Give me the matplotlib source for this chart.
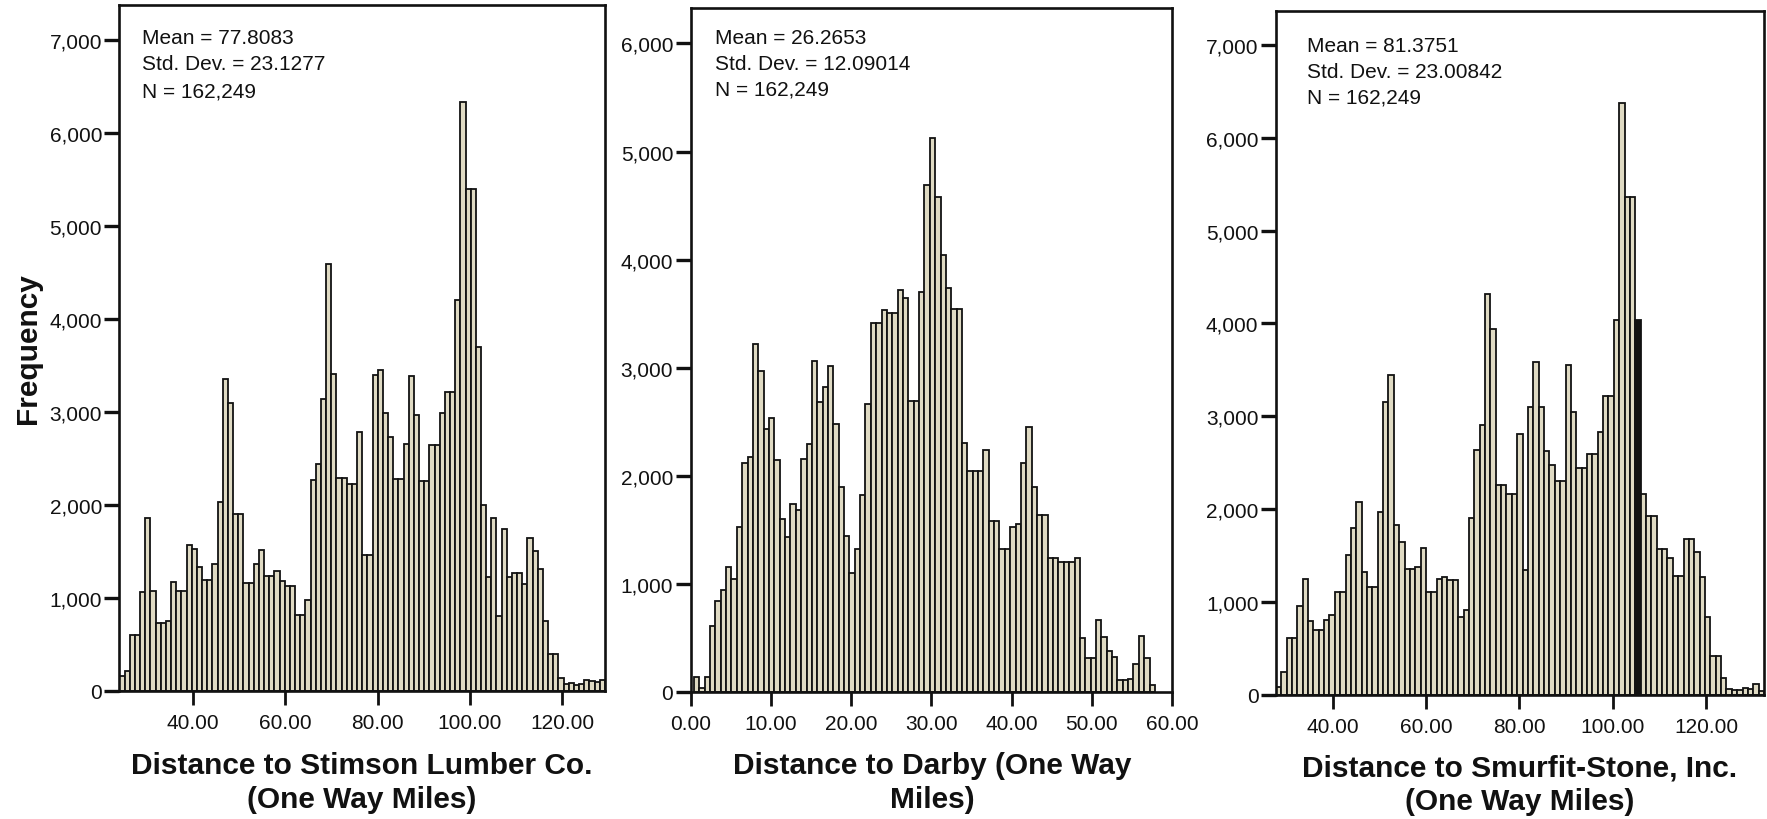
import numpy as np
import matplotlib
matplotlib.use("Agg")
import matplotlib.pyplot as plt
from matplotlib.ticker import FuncFormatter, FixedLocator

plt.rcParams['font.family'] = ['Liberation Sans', 'DejaVu Sans']

# ---------------- data ----------------
stimson_counts = [160, 220,
    600, 600, 1060, 1860, 1080, 730, 730, 750, 1170, 1080,
    1080, 1570, 1530, 1330, 1190, 1190, 1370, 2030, 3350, 3100,
    1900, 1900, 1160, 1160, 1370, 1520, 1240, 1240, 1290, 1180,
    1130, 1130, 820, 820, 980, 2270, 2440, 3140, 4590, 3410,
    2290, 2290, 2230, 2230, 2790, 1460, 1460, 3400, 3450, 2990,
    2730, 2280, 2280, 2660, 3390, 2970, 2260, 2260, 2650, 2650,
    2990, 3210, 3210, 4200, 6330, 5400, 5400, 3700,
    2000, 1230, 1860, 810, 1740, 1230, 1270, 1270, 1150, 1650,
    1500, 1310, 750, 400, 400, 135, 70, 90, 60, 70,
    120, 110, 100, 120]
stimson_bin_start = 24.16
stimson_bin_width = 1.1174
stimson_stats = ["Mean = 77.8083", "Std. Dev. = 23.1277", "N = 162,249"]
stimson_title = ["Distance to Stimson Lumber Co.", "(One Way Miles)"]

darby_counts = [135, 40, 135, 610, 840, 940, 1155, 1045, 1523, 2120,
    2170, 3215, 2972, 2432, 2532, 2150, 1600, 1437, 1737, 1683,
    2152, 2297, 3058, 2685, 2819, 3017, 2481, 1900, 1445, 1100,
    1320, 1825, 2667, 3414, 3414, 3535, 3502, 3502, 3717, 3643,
    2694, 2694, 3704, 4687, 5125, 4579, 4047, 3737, 3542, 3542,
    2303, 2044, 2044, 2044, 2236, 1582, 1582, 1320, 1320, 1522,
    1556, 2121, 2448, 1892, 1640, 1640, 1236, 1236, 1202, 1202,
    1202, 1242, 495, 310, 310, 663, 512, 377, 327, 108,
    108, 118, 259, 519, 310, 67]
darby_bin_start = 0.42
darby_bin_width = 0.668
darby_stats = ["Mean = 26.2653", "Std. Dev. = 12.09014", "N = 162,249"]
darby_title = ["Distance to Darby (One Way", "Miles)"]

smurfit_counts = [83, 242,
    613, 613, 950, 1250, 792, 700, 700, 800, 854, 1104,
    1104, 1508, 1800, 2075, 1325, 1158, 1158, 1967, 3154, 3446,
    1833, 1646, 1354, 1354, 1375, 1575, 1104, 1104, 1250, 1262,
    1237, 1237, 833, 908, 1904, 2633, 2908, 4321, 3938, 2258,
    2258, 2158, 2158, 2804, 1346, 3096, 3583, 3104, 2625, 2479,
    2300, 2300, 3550, 3050, 2446, 2446, 2596, 2596, 2833, 3221,
    3221, 4033,
    6375,
    5363, 5363, 4033, 2167, 1929, 1929, 1571, 1571, 1471, 1283,
    1283, 1675, 1675, 1533, 1271, 833,
    417, 417, 179, 63, 54, 50, 75, 60, 117, 42]
smurfit_bin_start = 27.8
smurfit_bin_width = 1.1495
smurfit_stats = ["Mean = 81.3751", "Std. Dev. = 23.00842", "N = 162,249"]
smurfit_title = ["Distance to Smurfit-Stone, Inc.", "(One Way Miles)"]

xticks_far = [40, 60, 80, 100, 120]
xticks_darby = [0, 10, 20, 30, 40, 50, 60]
yticks_7k = [0, 1000, 2000, 3000, 4000, 5000, 6000, 7000]
yticks_6k = [0, 1000, 2000, 3000, 4000, 5000, 6000]

# ---------------- layout / style ----------------
W, H = 1767, 820
fig = plt.figure(figsize=(W / 100, H / 100), dpi=100)
fig.patch.set_facecolor('white')

FACE = '#dfdac3'
EDGE = '#121212'
# in the scan one bar of the Smurfit-Stone panel (the 4,033 one after the
# two 5,363 bars) prints solid black
SMURFIT_DARK_BAR = 67


def add_ax(l, r, t, b):
    return fig.add_axes([l / W, 1 - b / H, (r - l) / W, (b - t) / H])


def draw_panel(ax, counts, start, width, xlim, ylim, xticks, yticks,
               dark_bar=None):
    n = len(counts)
    lefts = start + width * np.arange(n)
    faces = [FACE] * n
    if dark_bar is not None:
        faces[dark_bar] = EDGE
    ax.bar(lefts, counts, width=width, align='edge', color=faces,
           edgecolor=EDGE, linewidth=1.3)
    ax.set_xlim(*xlim)
    ax.set_ylim(*ylim)
    ax.xaxis.set_major_locator(FixedLocator(xticks))
    ax.yaxis.set_major_locator(FixedLocator(yticks))
    ax.xaxis.set_major_formatter(FuncFormatter(lambda v, p: f"{v:.2f}"))
    ax.yaxis.set_major_formatter(FuncFormatter(lambda v, p: f"{v:,.0f}"))
    ax.tick_params(axis='y', direction='out', length=11, width=2.4, pad=1.5,
                   labelsize=15, colors='#111111')
    ax.tick_params(axis='x', direction='out', length=10, width=2.0, pad=6,
                   labelsize=15, colors='#111111')
    for s in ax.spines.values():
        s.set_linewidth(1.9)
        s.set_color('#111111')


ax1 = add_ax(119.4, 605, 6.3, 692)
draw_panel(ax1, stimson_counts, stimson_bin_start, stimson_bin_width,
           (24.16, 129.2), (0, 7373), xticks_far, yticks_7k)

ax2 = add_ax(690.6, 1172, 9.4, 693)
draw_panel(ax2, darby_counts, darby_bin_start, darby_bin_width,
           (0, 60), (0, 6324), xticks_darby, yticks_6k)

ax3 = add_ax(1275.8, 1764, 11.5, 695.6)
draw_panel(ax3, smurfit_counts, smurfit_bin_start, smurfit_bin_width,
           (27.8, 132.4), (0, 7372), xticks_far, yticks_7k,
           dark_bar=SMURFIT_DARK_BAR)


def stats(x, ys, lines):
    for y, s in zip(ys, lines):
        fig.text(x / W, 1 - y / H, s, ha='left', va='center', fontsize=15,
                 color='#111111')


stats(141.5, [39, 65, 91.5], stimson_stats)
stats(715, [38, 64, 90], darby_stats)
stats(1307, [46, 72, 98], smurfit_stats)


def title(cx, ys, lines):
    for y, s in zip(ys, lines):
        fig.text(cx / W, 1 - y / H, s, ha='center', va='baseline',
                 fontsize=21.5, fontweight='bold', color='#111111')


title(362, [774, 808], stimson_title)
title(932, [774, 808], darby_title)
title(1520, [777, 810], smurfit_title)

fig.text(27.7 / W, 1 - 349 / H, 'Frequency', rotation=90, ha='center',
         va='center', fontsize=21.5, fontweight='bold', color='#111111')

fig.savefig('out.png', dpi=100, facecolor='white')
